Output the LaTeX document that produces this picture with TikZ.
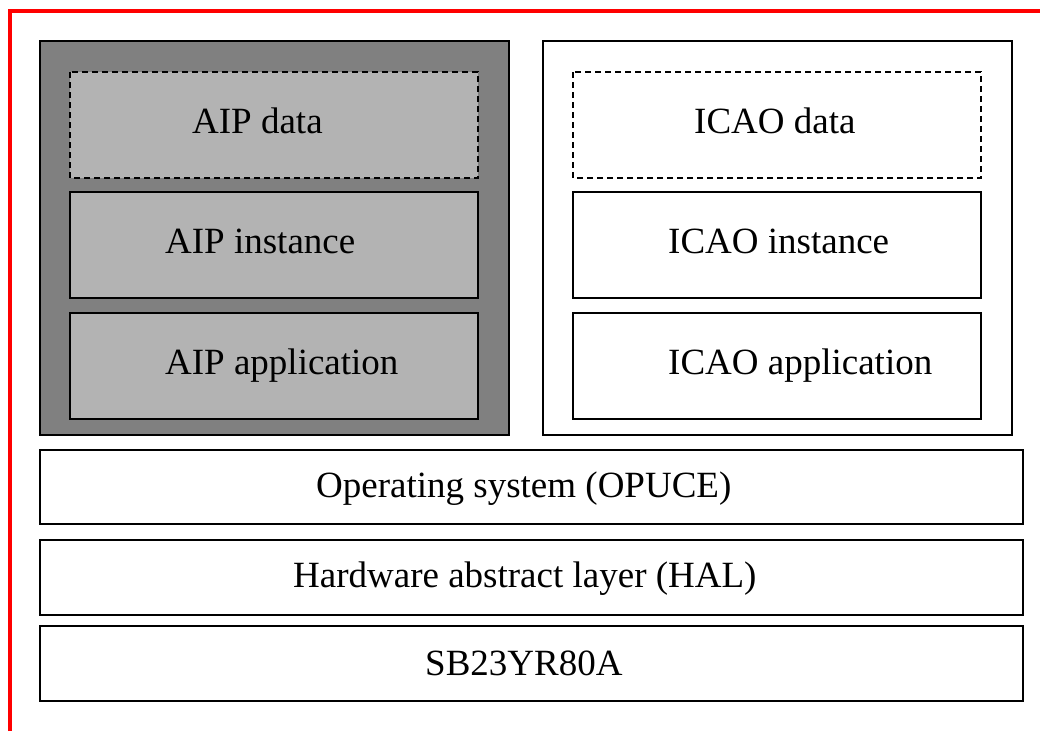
\documentclass[tikz,border=0pt]{standalone}
\usepackage{fontspec}
\setmainfont{Liberation Serif}
\usetikzlibrary{calc}
\definecolor{darkgrey}{HTML}{808080}
\definecolor{lightgrey}{HTML}{B3B3B3}
\tikzset{
  layer/.style={draw=black, line width=1.6pt},
  datalayer/.style={layer, dash pattern=on 6pt off 4pt},
  lbl/.style={anchor=base west, inner sep=0pt, font=\fontsize{37}{44}\selectfont}
}
\begin{document}
\begin{tikzpicture}[x=1pt, y=-1pt]
                      \useasboundingbox (0,0) rectangle (1040,731);
                      \draw [red, line width=4pt] (10,731) -- (10,11) -- (1040,11);
                      % AIP side
                      \draw [layer, fill=darkgrey] (40,41) rectangle (509,435);
                      \draw [datalayer, fill=lightgrey] (70,72) rectangle (478,178);
                      \draw [layer, fill=lightgrey] (70,192) rectangle (478,298);
                      \draw [layer, fill=lightgrey] (70,313) rectangle (478,419);
                      \node [lbl] (aipdata) at (192,133) {AIP data};
                      \node [lbl] (aipinst) at (165,253) {AIP instance};
                      \node [lbl] (aipapp) at (165,374) {AIP application};
                      % ICAO side
                      \draw [layer, fill=white] (543,41) rectangle (1012,435);
                      \draw [datalayer] (573,72) rectangle (981,178);
                      \draw [layer] (573,192) rectangle (981,298);
                      \draw [layer] (573,313) rectangle (981,419);
                      \node [lbl] (icaodata) at (694,133) {ICAO data};
                      \node [lbl] (icaoinst) at (668,253) {ICAO instance};
                      \node [lbl] (icaoapp) at (668,374) {ICAO application};
                      % lower layers
                      \draw [layer] (40,450) rectangle (1023,524);
                      \draw [layer] (40,540) rectangle (1023,615);
                      \draw [layer] (40,626) rectangle (1023,701);
                      \node [lbl] (os) at (316,497) {Operating system (OPUCE)};
                      \node [lbl] (hal) at (293,587) {Hardware abstract layer (HAL)};
                      \node [lbl] (chip) at (425,675) {SB23YR80A};
                  \end{tikzpicture}
\end{document}
